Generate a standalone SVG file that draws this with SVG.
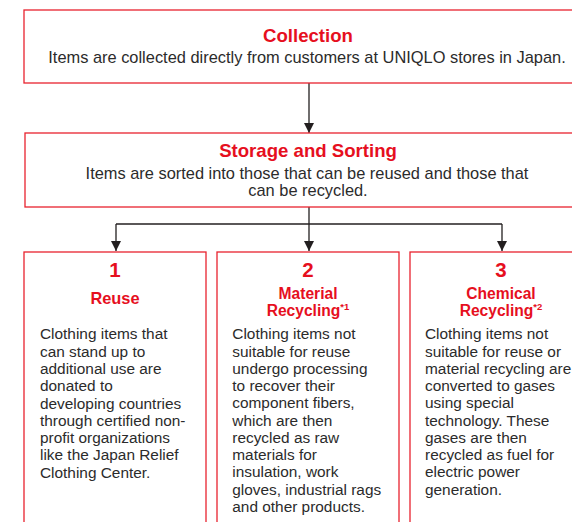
<svg xmlns="http://www.w3.org/2000/svg" width="572" height="522" viewBox="0 0 572 522">
<defs>
<style>
.box{fill:#fff;stroke:#e8232e;stroke-width:1.3}
.ttl{font-family:"Liberation Sans",Arial,sans-serif;font-weight:bold;fill:#e60f1e;text-anchor:middle}
.sub{font-family:"Liberation Sans",Arial,sans-serif;font-size:16.4px;fill:#2b2b2b;text-anchor:middle}
.body{font-family:"Liberation Sans",Arial,sans-serif;font-size:15.4px;fill:#2b2b2b}
.num{font-size:20.5px}
.h{font-size:16.4px}
.hs{font-size:15.6px}
.sup{font-size:9.5px}
.conn{fill:none;stroke:#231f20;stroke-width:1.3}
</style>
<marker id="arr" viewBox="0 0 10 10" refX="10" refY="5" markerWidth="10" markerHeight="10" markerUnits="userSpaceOnUse" orient="auto">
<path d="M0,0 L10,5 L0,10 Z" fill="#231f20"/>
</marker>
</defs>
<rect width="572" height="522" fill="#fff"/>
<g id="connectors">
<line class="conn" x1="309" y1="83" x2="309" y2="133" marker-end="url(#arr)"/>
<polyline class="conn" points="309,207 309,224"/>
<polyline class="conn" points="116,224 502,224"/>
<line class="conn" x1="116" y1="224" x2="116" y2="251" marker-end="url(#arr)"/>
<line class="conn" x1="309" y1="224" x2="309" y2="251" marker-end="url(#arr)"/>
<line class="conn" x1="502" y1="224" x2="502" y2="251" marker-end="url(#arr)"/>
</g>
<g id="collection">
<rect class="box" x="24" y="10" width="560" height="73"/>
<text class="ttl" x="308" y="41.7" font-size="18.6">Collection</text>
<text class="sub" x="307" y="63.3">Items are collected directly from customers at UNIQLO stores in Japan.</text>
</g>
<g id="storage">
<rect class="box" x="25" y="133" width="560" height="74"/>
<text class="ttl" x="308" y="157.3" font-size="18.6">Storage and Sorting</text>
<text class="sub" x="307" y="179">Items are sorted into those that can be reused and those that</text>
<text class="sub" x="308" y="195.7">can be recycled.</text>
</g>
<g id="reuse">
<rect class="box" x="24" y="252" width="182" height="290"/>
<text class="ttl num" x="115" y="277.3">1</text>
<text class="ttl h" x="115" y="304">Reuse</text>
<text class="body">
<tspan x="40" y="339.3">Clothing items that</tspan>
<tspan x="40" y="356.6">can stand up to</tspan>
<tspan x="40" y="373.9">additional use are</tspan>
<tspan x="40" y="391.2">donated to</tspan>
<tspan x="40" y="408.5">developing countries</tspan>
<tspan x="40" y="425.8">through certified non-</tspan>
<tspan x="40" y="443.1">profit organizations</tspan>
<tspan x="40" y="460.4">like the Japan Relief</tspan>
<tspan x="40" y="477.7">Clothing Center.</tspan>
</text>
</g>
<g id="material">
<rect class="box" x="217" y="252" width="182" height="290"/>
<text class="ttl num" x="308" y="277.3">2</text>
<text class="ttl hs" x="308" y="299">Material</text>
<text class="ttl hs" x="308" y="316.3">Recycling<tspan class="sup" dy="-6">*1</tspan></text>
<text class="body">
<tspan x="232.3" y="339.3">Clothing items not</tspan>
<tspan x="232.3" y="356.5">suitable for reuse</tspan>
<tspan x="232.3" y="373.8">undergo processing</tspan>
<tspan x="232.3" y="391">to recover their</tspan>
<tspan x="232.3" y="408.3">component fibers,</tspan>
<tspan x="232.3" y="425.5">which are then</tspan>
<tspan x="232.3" y="442.7">recycled as raw</tspan>
<tspan x="232.3" y="460">materials for</tspan>
<tspan x="232.3" y="477.2">insulation, work</tspan>
<tspan x="232.3" y="494.5">gloves, industrial rags</tspan>
<tspan x="232.3" y="511.7">and other products.</tspan>
</text>
</g>
<g id="chemical">
<rect class="box" x="410" y="252" width="182" height="290"/>
<text class="ttl num" x="501" y="277.3">3</text>
<text class="ttl hs" x="501" y="299">Chemical</text>
<text class="ttl hs" x="501" y="316.3">Recycling<tspan class="sup" dy="-6">*2</tspan></text>
<text class="body">
<tspan x="425" y="339.3">Clothing items not</tspan>
<tspan x="425" y="356.5">suitable for reuse or</tspan>
<tspan x="425" y="373.8">material recycling are</tspan>
<tspan x="425" y="391">converted to gases</tspan>
<tspan x="425" y="408.3">using special</tspan>
<tspan x="425" y="425.5">technology. These</tspan>
<tspan x="425" y="442.7">gases are then</tspan>
<tspan x="425" y="460">recycled as fuel for</tspan>
<tspan x="425" y="477.2">electric power</tspan>
<tspan x="425" y="494.5">generation.</tspan>
</text>
</g>
</svg>
